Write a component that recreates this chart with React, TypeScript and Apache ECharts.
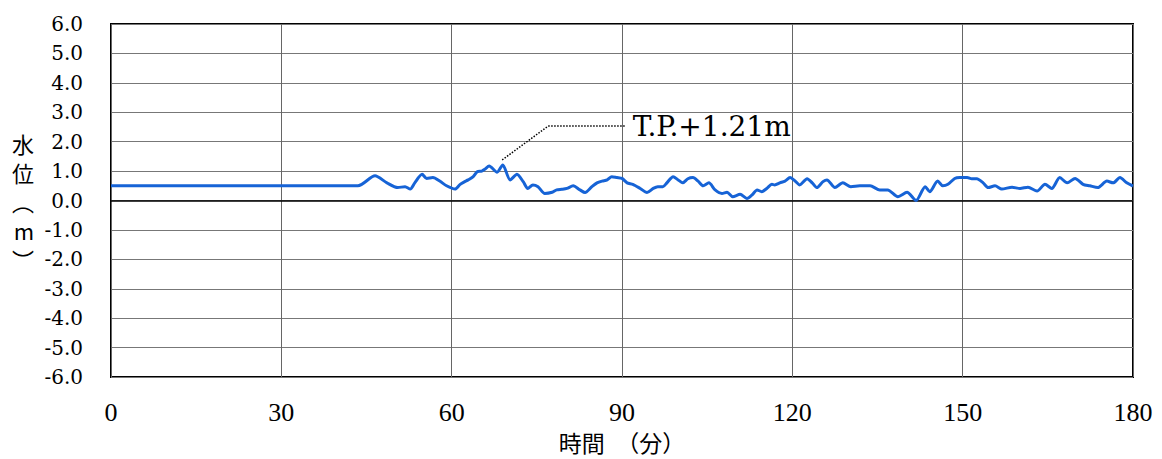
import React, { useEffect, useRef } from "react";
import * as echarts from "echarts";

// time (minutes) and water level (m)
const times: number[] = [
  0, 43.5, 46.5, 48.6, 50.5, 51.8, 52.7, 53.5, 54.8, 55.6,
  56.7, 57.9, 59.1, 60.6, 61.5, 62.3, 62.9, 63.8, 64.5, 65.3,
  65.9, 66.6, 68, 69, 70.3, 71.5, 72.6, 73.4, 74.3, 75.2,
  76.4, 77.7, 78.5, 79.4, 80.3, 81.4, 82.6, 83.5, 84.7, 85.6,
  86.5, 87.4, 88.2, 89.1, 90, 90.9, 91.9, 93.2, 94.4, 95.5,
  96.3, 97.2, 97.9, 99, 99.9, 100.7, 101.6, 102.5, 103.4, 104.3,
  105.3, 106.4, 107.6, 108.5, 109.5, 110.8, 112, 112.9, 113.8, 114.6,
  115.5, 116.4, 116.9, 117.8, 118.7, 119.6, 120.5, 121.3, 122.6, 123.5,
  124.3, 125.4, 126.1, 127.5, 128.9, 130.3, 131.9, 133.7, 135.4, 136.8,
  138.6, 140.2, 141.8, 143.4, 144.2, 145.6, 146.5, 147.4, 148.6, 149.5,
  150.8, 151.6, 152.5, 153.6, 154.5, 155.7, 156.9, 158.7, 160.1, 161.5,
  163.1, 164.5, 165.7, 167.1, 168.4, 169.8, 171.2, 172.4, 173.8, 175.4,
  176.5, 177.7, 178.9, 180,
];
const levels: number[] = [
  0.5, 0.5, 0.84, 0.6, 0.44, 0.47, 0.39, 0.6, 0.89, 0.75,
  0.78, 0.66, 0.5, 0.39, 0.55, 0.64, 0.7, 0.81, 0.98, 1.0,
  1.07, 1.17, 0.96, 1.21, 0.7, 0.89, 0.64, 0.41, 0.53, 0.47,
  0.24, 0.28, 0.36, 0.38, 0.41, 0.5, 0.36, 0.27, 0.47, 0.6,
  0.66, 0.7, 0.81, 0.78, 0.75, 0.6, 0.55, 0.41, 0.27, 0.41,
  0.47, 0.47, 0.6, 0.81, 0.7, 0.6, 0.74, 0.78, 0.66, 0.5,
  0.6, 0.36, 0.24, 0.28, 0.13, 0.21, 0.07, 0.19, 0.36, 0.3,
  0.41, 0.55, 0.53, 0.6, 0.66, 0.78, 0.66, 0.53, 0.74, 0.6,
  0.44, 0.64, 0.7, 0.44, 0.6, 0.47, 0.5, 0.5, 0.36, 0.36,
  0.13, 0.28, 0.0, 0.47, 0.3, 0.66, 0.5, 0.55, 0.75, 0.78,
  0.78, 0.74, 0.74, 0.6, 0.44, 0.5, 0.39, 0.45, 0.41, 0.45,
  0.32, 0.55, 0.41, 0.78, 0.6, 0.75, 0.55, 0.5, 0.44, 0.66,
  0.6, 0.78, 0.6, 0.49,
];

const xMin = 0;
const xMax = 180;
const xStep = 30;
const yMin = -6;
const yMax = 6;
const yStep = 1;

// annotation leader (time, level) and label
const leaderPoints: number[][] = [
  [68.9, 1.38],
  [77, 2.53],
  [90.5, 2.53],
];
const peakLabel = "T.P.+1.21m";
const xName = "時間　（分）";
const yName = "水\n位\n︵\nm\n︶";

export default function App() {
  const ref = useRef<HTMLDivElement>(null);
  useEffect(() => {
    if (!ref.current) return;
    const chart = echarts.init(ref.current, null, { renderer: "svg" });
    const data = times.map((t, i) => [t, levels[i]]);
    const dotted = { color: "#000", width: 1.5, type: "dotted" };
    chart.setOption({
      animation: false,
      backgroundColor: "#ffffff",
      grid: {
        left: 111,
        right: 29,
        top: 24,
        bottom: 82,
        show: true,
        borderColor: "#000",
        borderWidth: 2,
        backgroundColor: "transparent",
      },
      xAxis: {
        type: "value",
        min: xMin,
        max: xMax,
        interval: xStep,
        axisLine: { show: false },
        axisTick: { show: false },
        splitLine: { show: true, lineStyle: { color: "#666", width: 1 } },
        axisLabel: {
          color: "#000",
          fontFamily: "Liberation Serif",
          fontSize: 26,
          margin: 22,
        },
        name: xName,
        nameLocation: "middle",
        nameGap: 53,
        nameTextStyle: {
          color: "#000",
          fontFamily: "Noto Sans CJK JP",
          fontSize: 23,
        },
      },
      yAxis: {
        type: "value",
        min: yMin,
        max: yMax,
        interval: yStep,
        axisLine: { show: false },
        axisTick: { show: false },
        splitLine: { show: true, lineStyle: { color: "#777", width: 1 } },
        axisLabel: {
          color: "#000",
          fontFamily: "DejaVu Serif",
          fontSize: 20,
          margin: 28,
          formatter: (v: number) => v.toFixed(1),
        },
        name: yName,
        nameLocation: "middle",
        nameRotate: 0,
        nameGap: 77,
        nameTextStyle: {
          color: "#000",
          fontFamily: "Noto Sans CJK JP",
          fontSize: 22,
          lineHeight: 29,
        },
      },
      series: [
        {
          type: "line",
          data,
          showSymbol: false,
          smooth: 0.25,
          lineStyle: { color: "#1663d6", width: 3 },
          itemStyle: { color: "#1663d6" },
          z: 5,
          markLine: {
            silent: true,
            symbol: "none",
            animation: false,
            label: { show: false },
            data: [
              {
                yAxis: 0,
                lineStyle: { color: "#000", width: 1.5, type: "solid" },
                label: { show: false },
              },
              [
                { coord: leaderPoints[0], lineStyle: dotted },
                { coord: leaderPoints[1] },
              ],
              [
                {
                  coord: leaderPoints[1],
                  lineStyle: dotted,
                  label: {
                    show: true,
                    position: "end",
                    formatter: peakLabel,
                    color: "#000",
                    fontFamily: "DejaVu Serif",
                    fontSize: 28,
                    distance: 8,
                  },
                },
                { coord: leaderPoints[2] },
              ],
            ],
          },
        },
      ],
    });
    return () => chart.dispose();
  }, []);
  return (
    <div
      ref={ref}
      style={{ position: "fixed", left: 0, top: 0, width: 1162, height: 459 }}
    />
  );
}
